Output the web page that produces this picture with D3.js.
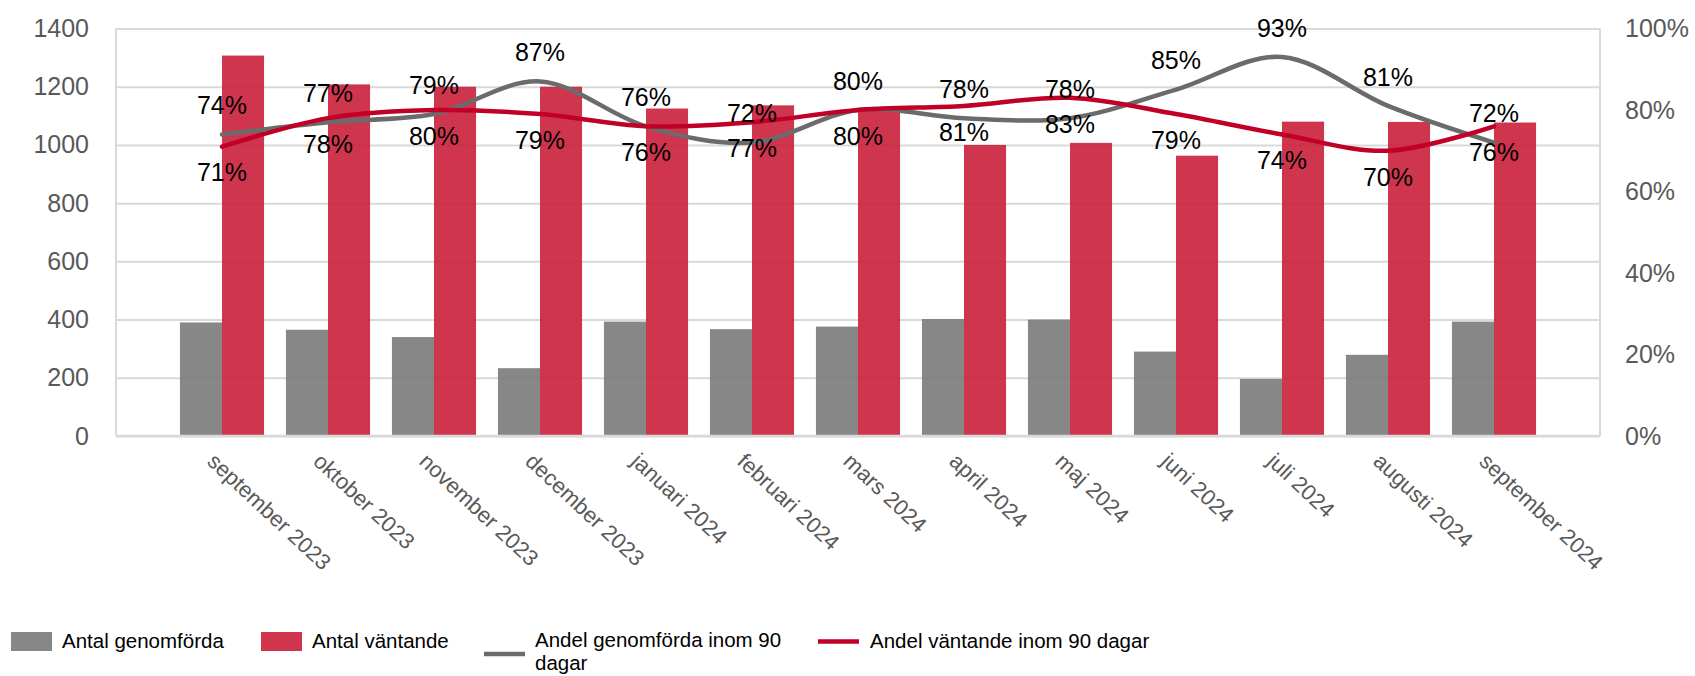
<!DOCTYPE html>
<html>
<head>
<meta charset="utf-8">
<script src="https://cdn.jsdelivr.net/npm/d3@7"></script>
<style>
  html, body { margin: 0; padding: 0; background: #fff; }
  svg { display: block; font-family: "Liberation Sans", Arial, sans-serif; }
</style>
</head>
<body>
<svg id="chart" width="1695" height="676"></svg>
<script>
const categories = ["september 2023","oktober 2023","november 2023","december 2023","januari 2024","februari 2024","mars 2024","april 2024","maj 2024","juni 2024","juli 2024","augusti 2024","september 2024"];
const antalGenomforda = [390,365,340,233,393,367,376,402,400,290,196,279,393];
const antalVantande = [1307,1208,1200,1200,1125,1136,1125,1000,1007,963,1080,1079,1077];
const andelGenomforda = [74,77,79,87,76,72,80,78,78,85,93,81,72];
const andelVantande = [71,78,80,79,76,77,80,81,83,79,74,70,76];
const leftTicks = [0,200,400,600,800,1000,1200,1400];
const rightTicks = [0,20,40,60,80,100];
const seriesNames = ["Antal genomförda","Antal väntande","Andel genomförda inom 90 dagar","Andel väntande inom 90 dagar"];

const svg = d3.select("#chart");
const L = 116, R = 1600, T = 28.5, B = 436;

const x = d3.scaleBand().domain(categories).range([L, R]).paddingInner(0).paddingOuter(0.5);
const x1 = d3.scaleBand().domain(["g","v"]).range([0, x.bandwidth()]).paddingInner(0).paddingOuter(0.26);
const yL = d3.scaleLinear().domain([0,1400]).range([B, T]);
const yR = d3.scaleLinear().domain([0,100]).range([B, T]);

const gridColor = "#d9d9d9";
const tickColor = "#595959";

// gridlines
const grid = svg.append("g").attr("transform", `translate(${L},0)`)
  .call(d3.axisLeft(yL).tickValues(leftTicks).tickSize(-(R-L)).tickFormat(""));
grid.select(".domain").remove();
grid.selectAll("line").attr("stroke", gridColor).attr("stroke-width", 2);
svg.append("line").attr("x1", L).attr("x2", L).attr("y1", T).attr("y2", B).attr("stroke", gridColor).attr("stroke-width", 2);
svg.append("line").attr("x1", R).attr("x2", R).attr("y1", T).attr("y2", B).attr("stroke", gridColor).attr("stroke-width", 2);

// bars
const bars = svg.append("g");
bars.selectAll("rect.g").data(categories).join("rect")
  .attr("x", (d) => x(d) + x1("g"))
  .attr("width", x1.bandwidth())
  .attr("y", (d,i) => yL(antalGenomforda[i]))
  .attr("height", (d,i) => B - yL(antalGenomforda[i]))
  .attr("fill", "#7a7a7a").attr("fill-opacity", 0.9);
bars.selectAll("rect.v").data(categories).join("rect")
  .attr("x", (d) => x(d) + x1("v"))
  .attr("width", x1.bandwidth())
  .attr("y", (d,i) => yL(antalVantande[i]))
  .attr("height", (d,i) => B - yL(antalVantande[i]))
  .attr("fill", "#ca203b").attr("fill-opacity", 0.9);

svg.append("line").attr("x1", L).attr("x2", R).attr("y1", B).attr("y2", B).attr("stroke", gridColor).attr("stroke-width", 2.5);

// left axis labels
const ya = svg.append("g").attr("transform", `translate(${L},0)`)
  .call(d3.axisLeft(yL).tickValues(leftTicks).tickSize(0).tickPadding(27).tickFormat(d3.format("d")));
ya.select(".domain").remove();
ya.selectAll("text").attr("fill", tickColor).style("font-size", "25px").style("font-family", "'Liberation Sans', Arial, sans-serif");

// right axis labels
const yr = svg.append("g").attr("transform", `translate(${R},0)`)
  .call(d3.axisRight(yR).tickValues(rightTicks).tickSize(0).tickPadding(25).tickFormat(d => d + "%"));
yr.select(".domain").remove();
yr.selectAll("text").attr("fill", tickColor).style("font-size", "25px").style("font-family", "'Liberation Sans', Arial, sans-serif");

// x axis labels
const xa = svg.append("g").attr("transform", `translate(0,${B})`)
  .call(d3.axisBottom(x).tickSize(0).tickFormat(d => d));
xa.select(".domain").remove();
xa.selectAll("text")
  .attr("fill", tickColor)
  .style("font-size", "22px").style("font-family", "'Liberation Sans', Arial, sans-serif")
  .attr("text-anchor", "start")
  .attr("y", 0).attr("dy", "0")
  .attr("transform", "translate(-16,27) rotate(43)");

// lines
const cx = (i) => x(categories[i]) + x.bandwidth()/2;
const lineGen = (vals) => d3.line().x((d,i) => cx(i)).y(d => yR(d)).curve(d3.curveCardinal.tension(0))(vals);
svg.append("path").attr("d", lineGen(andelGenomforda)).attr("fill", "none").attr("stroke", "#6b6b6b").attr("stroke-width", 4.5).attr("stroke-linecap", "round");
svg.append("path").attr("d", lineGen(andelVantande)).attr("fill", "none").attr("stroke", "#c00026").attr("stroke-width", 4.5).attr("stroke-linecap", "round");

// data labels
const lab = svg.append("g").style("font-size", "25px").attr("fill", "#000").attr("text-anchor", "middle");
lab.selectAll("text.g").data(andelGenomforda).join("text")
  .attr("x", (d,i) => cx(i)).attr("y", d => yR(d) - 29).attr("dy", "0.35em").text(d => d + "%");
lab.selectAll("text.v").data(andelVantande).join("text").attr("class","v")
  .attr("x", (d,i) => cx(i)).attr("y", d => yR(d) + 26).attr("dy", "0.35em").text(d => d + "%");

// legend
const leg = svg.append("g").style("font-size", "20.5px").attr("fill", "#000");
leg.append("rect").attr("x", 11).attr("y", 632).attr("width", 41).attr("height", 19).attr("fill", "#7a7a7a").attr("fill-opacity", 0.9);
leg.append("text").attr("x", 62).attr("y", 648).text(seriesNames[0]);
leg.append("rect").attr("x", 261).attr("y", 632).attr("width", 41).attr("height", 19).attr("fill", "#ca203b").attr("fill-opacity", 0.9);
leg.append("text").attr("x", 312).attr("y", 648).text(seriesNames[1]);
leg.append("line").attr("x1", 484).attr("x2", 525).attr("y1", 654).attr("y2", 654).attr("stroke", "#6b6b6b").attr("stroke-width", 4.5);
const t3 = leg.append("text").attr("x", 535).attr("y", 647);
t3.append("tspan").attr("x", 535).text("Andel genomförda inom 90");
t3.append("tspan").attr("x", 535).attr("dy", 23).text("dagar");
leg.append("line").attr("x1", 818).attr("x2", 859).attr("y1", 641.5).attr("y2", 641.5).attr("stroke", "#c00026").attr("stroke-width", 4.5);
leg.append("text").attr("x", 870).attr("y", 648).text(seriesNames[3]);
</script>
</body>
</html>
